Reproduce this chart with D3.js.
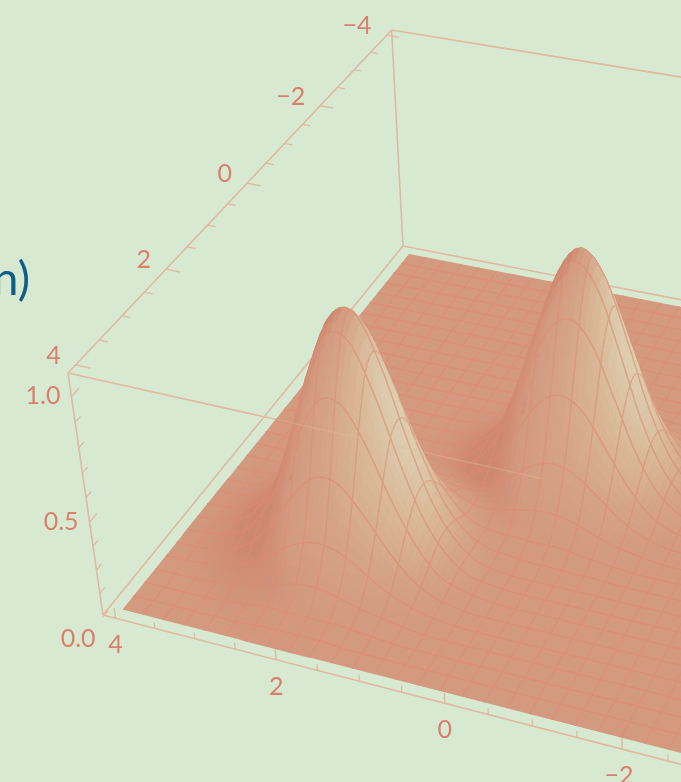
<!DOCTYPE html>
<html>
<head>
<meta charset="utf-8">
<script src="https://cdn.jsdelivr.net/npm/d3@7"></script>
<style>
  html, body { margin: 0; padding: 0; background: #d8e9d2; overflow: hidden; }
  svg { display: block; }
  text { font-family: Lato, "Open Sans", sans-serif; }
</style>
</head>
<body>
<div id="chart"></div>
<script>
// Axis ticks as labelled in the picture
const xTicks = [4, 2, 0, -2, -4];
const yTicks = [4, 2, 0, -2, -4];
const zTicks = [0, 0.5, 1];
const xMinorTicks = [3.5, 3, 2.5, 1.5, 1, 0.5, -0.5, -1, -1.5, -2.5, -3, -3.5];
const yMinorTicks = [3.5, 3, 2.5, 1.5, 1, 0.5, -0.5, -1, -1.5, -2.5, -3, -3.5];
const zMinorTicks = [0.1, 0.2, 0.3, 0.4, 0.6, 0.7, 0.8, 0.9];

// Surface height above the floor at each grid node.
// One row per grid line in y (from y = 4 backwards), one value per grid line in x
// (from x = 4 rightwards). Rows stop at their last raised node, the rest is floor.
const heights = [
  [],
  [0, 0, 0, 0, 0, 0, .01, .01, .01, .01],
  [0, 0, 0, 0, .01, .02, .03, .03, .03, .03, .02, .01],
  [0, 0, 0, .01, .03, .05, .08, .11, .11, .08, .05, .03, .01],
  [0, 0, .01, .03, .07, .13, .21, .26, .26, .21, .13, .07, .03, .01],
  [0, 0, .02, .05, .13, .26, .41, .52, .52, .41, .26, .13, .05, .02],
  [0, .01, .03, .08, .21, .41, .65, .82, .82, .65, .41, .21, .08, .03, .01],
  [0, .01, .03, .11, .26, .52, .82, 1.03, 1.03, .82, .52, .26, .11, .03, .01],
  [0, .01, .03, .11, .26, .52, .82, 1.03, 1.03, .82, .52, .26, .11, .03, .01],
  [0, .01, .03, .08, .21, .41, .65, .82, .82, .65, .41, .21, .09, .04, .03, .02, .02, .01, .01],
  [0, 0, .02, .05, .13, .26, .41, .52, .52, .41, .26, .14, .07, .06, .06, .06, .06, .04, .02, .01],
  [0, 0, .01, .03, .07, .13, .21, .26, .26, .21, .14, .10, .09, .12, .16, .18, .16, .11, .06, .03, .01],
  [0, 0, 0, .01, .03, .05, .08, .11, .11, .09, .07, .09, .15, .25, .35, .39, .35, .25, .14, .06, .02, .01],
  [0, 0, 0, 0, .01, .02, .03, .03, .03, .04, .06, .12, .25, .44, .62, .69, .62, .44, .25, .11, .04, .01],
  [0, 0, 0, 0, 0, 0, .01, .01, .01, .03, .06, .16, .35, .62, .87, .97, .87, .62, .35, .16, .06, .02],
  [0, 0, 0, 0, 0, 0, 0, 0, 0, .02, .06, .18, .39, .69, .97, 1.09, .97, .69, .39, .18, .06, .02],
  [0, 0, 0, 0, 0, 0, 0, 0, 0, .02, .06, .16, .35, .62, .87, .97, .87, .62, .35, .16, .06, .02],
  [0, 0, 0, 0, 0, 0, 0, 0, 0, .01, .04, .11, .25, .44, .62, .69, .62, .44, .25, .11, .04, .01],
  [0, 0, 0, 0, 0, 0, 0, 0, 0, .01, .02, .06, .14, .25, .35, .39, .35, .25, .14, .06, .02, .01],
  [0, 0, 0, 0, 0, 0, 0, 0, 0, 0, .01, .03, .06, .11, .16, .18, .16, .11, .06, .03, .01],
  [0, 0, 0, 0, 0, 0, 0, 0, 0, 0, 0, .01, .02, .04, .06, .06, .06, .04, .02, .01],
  [0, 0, 0, 0, 0, 0, 0, 0, 0, 0, 0, 0, .01, .01, .02, .02, .02, .01, .01],
  [], [], [], [], [], [], [], [], []
];

const width = 681, height = 782;
const gridCount = 30;   // cells of the height table per side
const meshCells = 31;   // 30 mesh lines split each side into 31 cells, none on the rim
const subdiv = 4;       // smoothing steps inside a mesh cell

const bg = '#d8e9d2';
const boxColor = '#e0b9a0';
const labelColor = '#d9806c';
const floorColor = '#d39a80';
const meshTint = d3.interpolateRgb;

// Box coordinates: 0..1.04 along the floor, 0..1 up
const uScale = d3.scaleLinear().domain([4, -4]).range([0.02, 1.02]);
const vScale = d3.scaleLinear().domain([4, -4]).range([0.02, 1.02]);
const wScale = d3.scaleLinear().domain([0, 1.1]).range([0, 1]);
// the printed z axis sits a little lower than the floor: 0.0 falls below the box corner
const zAxisScale = d3.scaleLinear().domain([0, 1]).range([-0.109, 0.909]);
const boxMax = 1.04;

// Perspective camera fitted to the box corners and ticks
function project(u, v, z) {
  const d = 1 - 0.095 * u + 0.215 * v - 0.065 * z;
  return [
    (103 + 615 * u + 375.1 * v - 39.4 * z) / d,
    (615 + 103 * u - 301.9 * v - 266.2 * z) / d
  ];
}

function nodeHeight(i, j) {
  const jj = Math.max(0, Math.min(gridCount, j));
  const ii = Math.max(0, Math.min(gridCount, i));
  return heights[jj][ii] ?? 0;
}

function catmull(p0, p1, p2, p3, t) {
  return 0.5 * (2 * p1 + (p2 - p0) * t + (2 * p0 - 5 * p1 + 4 * p2 - p3) * t * t +
    (3 * p1 - p0 - 3 * p2 + p3) * t * t * t);
}

// smooth height between the nodes, for drawing only
function heightAt(fi, fj) {
  const i = Math.min(gridCount - 1, Math.floor(fi)), j = Math.min(gridCount - 1, Math.floor(fj));
  const ti = fi - i, tj = fj - j;
  const rows = [-1, 0, 1, 2].map(dj =>
    catmull(nodeHeight(i - 1, j + dj), nodeHeight(i, j + dj), nodeHeight(i + 1, j + dj), nodeHeight(i + 2, j + dj), ti));
  return Math.max(0, catmull(rows[0], rows[1], rows[2], rows[3], tj));
}

const nodeX = fi => 4 - fi * 8 / gridCount;
const nodeY = fj => 4 - fj * 8 / gridCount;
const surfacePoint = (fi, fj) =>
  project(uScale(nodeX(fi)), vScale(nodeY(fj)), wScale(heightAt(fi, fj)));

const shade = d3.scaleLinear()
  .domain([-0.12, 0, 0.3, 0.7, 1])
  .range(['#cd8970', floorColor, '#d5a388', '#d9b998', '#dccfb0'])
  .clamp(true);

function shadeAt(fi, fj) {
  const e = 0.9, step = 8 / gridCount;
  const nu = -(heightAt(fi + e, fj) - heightAt(fi - e, fj)) / (2 * e * step);
  const nv = -(heightAt(fi, fj + e) - heightAt(fi, fj - e)) / (2 * e * step);
  const s2 = nu * nu + nv * nv;
  const n = Math.sqrt(1 + s2);
  return shade(0.7 * nu / n + 0.2 * nv / n + 0.85 * s2 / (1 + s2));
}

const svg = d3.select('#chart').append('svg')
  .attr('width', width)
  .attr('height', height)
  .style('background', bg);

svg.append('defs').append('filter')
  .attr('id', 'soft')
  .attr('filterUnits', 'userSpaceOnUse')
  .attr('x', 0).attr('y', 0).attr('width', width).attr('height', height)
  .append('feGaussianBlur').attr('stdDeviation', 0.5);

const root = svg.append('g').attr('filter', 'url(#soft)');
const line = d3.line();

function boxLine(parent, a, b) {
  parent.append('path')
    .attr('d', line([project(...a), project(...b)]))
    .attr('fill', 'none')
    .attr('stroke', boxColor)
    .attr('stroke-width', 1.6);
}

// Box edges behind the surface
const back = root.append('g');
boxLine(back, [0, 0, 0], [boxMax, 0, 0]);
boxLine(back, [0, 0, 0], [0, boxMax, 0]);
boxLine(back, [0, boxMax, 0], [boxMax, boxMax, 0]);
boxLine(back, [0, 0, 0], [0, 0, 1]);
boxLine(back, [0, boxMax, 0], [0, boxMax, 1]);
boxLine(back, [0, 0, 1], [0, boxMax, 1]);
boxLine(back, [0, boxMax, 1], [boxMax, boxMax, 1]);
boxLine(back, [0, 0, 1], [0.665, 0, 1]);

// Ticks
const ticks = root.append('g');
function tickLine(a, b, w) {
  ticks.append('path')
    .attr('d', line([project(...a), project(...b)]))
    .attr('stroke', boxColor)
    .attr('stroke-width', w);
}
xTicks.forEach(t => tickLine([uScale(t), 0, 0], [uScale(t), 0, 0.045], 1.4));
xMinorTicks.forEach(t => tickLine([uScale(t), 0, 0], [uScale(t), 0, 0.028], 1.2));
yTicks.forEach(t => tickLine([0, vScale(t), 1], [0.022, vScale(t), 1], 1.4));
yMinorTicks.forEach(t => tickLine([0, vScale(t), 1], [0.013, vScale(t), 1], 1.2));
zTicks.slice(1).forEach(t => tickLine([0, 0, zAxisScale(t)], [0, 0.02, zAxisScale(t)], 1.4));
zMinorTicks.forEach(t => tickLine([0, 0, zAxisScale(t)], [0, 0.014, zAxisScale(t)], 1.2));

// Surface, painted from the far corner to the near one
const pieces = [];
const total = meshCells * subdiv;
const onMesh = k => k % subdiv === 0 && k > 0 && k < total;
const toGrid = k => (k / total) * gridCount;
const offScreen = pts => pts.every(p => p[0] > width + 4);

// flat floor first as one shape, only raised cells are painted one by one
const floorShape = [[0, 0], [gridCount, 0], [gridCount, gridCount], [0, gridCount]]
  .map(c => surfacePoint(c[0], c[1]));
pieces.push({ d: line(floorShape) + 'Z', fill: floorColor, stroke: 'none', w: 0 });

// mesh lines take their tone from the surface under them
function addSegment(a, b, c) {
  if (offScreen([a, b])) return;
  pieces.push({ d: line([a, b]), fill: 'none', stroke: meshTint(c, '#e08a72')(0.62), w: 1.4 });
}

for (let sj = total - 1; sj >= 0; sj--) {
  for (let si = 0; si < total; si++) {
    const i0 = toGrid(si), i1 = toGrid(si + 1);
    const j0 = toGrid(sj), j1 = toGrid(sj + 1);
    const p00 = surfacePoint(i0, j0), p10 = surfacePoint(i1, j0);
    const p11 = surfacePoint(i1, j1), p01 = surfacePoint(i0, j1);
    if (offScreen([p00, p10, p11, p01])) continue;
    const c = shadeAt((i0 + i1) / 2, (j0 + j1) / 2);
    if (c !== shade(0)) {
      pieces.push({ d: line([p00, p10, p11, p01]) + 'Z', fill: c, stroke: c, w: 0.5 });
    }
    if (onMesh(sj + 1)) addSegment(p01, p11, c);
    if (onMesh(si)) addSegment(p00, p01, c);
    if (onMesh(sj)) addSegment(p00, p10, c);
  }
}

root.append('g').selectAll('path')
  .data(pieces)
  .join('path')
  .attr('d', d => d.d)
  .attr('fill', d => d.fill)
  .attr('stroke', d => d.stroke)
  .attr('stroke-width', d => d.w);

// Front top edge shows faintly across the surface
const p0 = project(0.17, 0, 1), p1 = project(0.665, 0, 1);
root.append('path')
  .attr('d', line([p0, p1]))
  .attr('stroke', '#e0b9a0')
  .attr('stroke-width', 1.2)
  .attr('opacity', 0.45);

// Tick labels
const fmtAxis = t => (t < 0 ? '\u2212' + Math.abs(t) : String(t));
const labels = root.append('g')
  .attr('fill', labelColor)
  .style('font-size', '25px');

xTicks.slice(0, 4).forEach(t => {
  const p = project(uScale(t), 0, 0);
  labels.append('text')
    .attr('x', p[0] - (t < 0 ? 3 : 0))
    .attr('y', p[1] + 35)
    .attr('text-anchor', 'middle')
    .text(fmtAxis(t));
});
yTicks.forEach(t => {
  const p = project(0, vScale(t), 1);
  labels.append('text')
    .attr('x', p[0] - 15)
    .attr('y', p[1] - 1)
    .attr('text-anchor', 'end')
    .text(fmtAxis(t));
});
zTicks.forEach(t => {
  const p = project(0, 0, zAxisScale(t));
  labels.append('text')
    .attr('x', p[0] - 11)
    .attr('y', p[1] + 8)
    .attr('text-anchor', 'end')
    .text(t.toFixed(1));
});

// Clipped end of the title text on the left
root.append('text')
  .attr('x', 30)
  .attr('y', 295)
  .attr('text-anchor', 'end')
  .attr('fill', '#0b5f88')
  .style('font-size', '46px')
  .text('n)');
</script>
</body>
</html>
